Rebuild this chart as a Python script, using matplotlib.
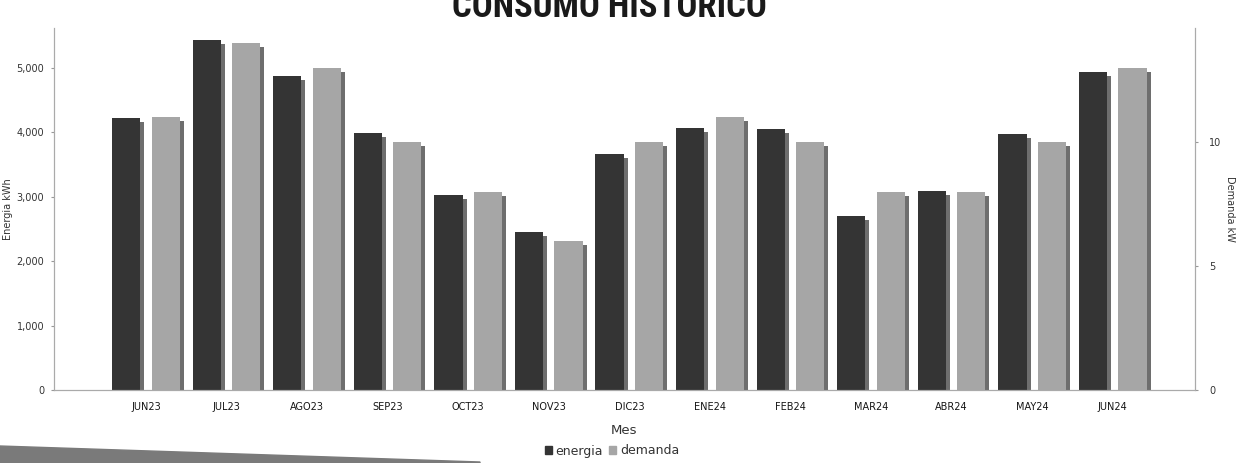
import numpy as np
import matplotlib.pyplot as plt
from matplotlib import font_manager
from matplotlib.patches import Polygon, Patch
from matplotlib.ticker import FuncFormatter

meses = ['JUN23', 'JUL23', 'AGO23', 'SEP23', 'OCT23', 'NOV23', 'DIC23',
         'ENE24', 'FEB24', 'MAR24', 'ABR24', 'MAY24', 'JUN24']
energia = [4230, 5440, 4870, 3990, 3020, 2460, 3660, 4060, 4050, 2700, 3090, 3970, 4940]
demanda = [11, 14, 13, 10, 8, 6, 10, 11, 10, 8, 8, 10, 13]

W, H = 1242, 463
fig = plt.figure(figsize=(W / 100, H / 100), dpi=100)
ax = fig.add_axes([54 / W, 1 - 390 / H, (1195 - 54) / W, 362 / H])
ax2 = ax.twinx()

x = np.arange(len(meses))
ancho = 0.35
off = 0.245
col_e = '#343434'
col_d = '#a6a6a6'
col_sh = '#6e6e6e'

ymax_e = 5620
ymax_d = 14.6
# shadow: a few pixels right and down, like the original chart renderer
dx = 4 / 80.5
sh_e = 4 / 362 * ymax_e
sh_d = 4 / 362 * ymax_d

e = np.array(energia, dtype=float)
d = np.array(demanda, dtype=float)
ax.bar(x - off + dx, e - sh_e, ancho, color=col_sh, zorder=1)
ax.bar(x - off, e, ancho, color=col_e, zorder=2)
ax2.bar(x + off + dx, d - sh_d, ancho, color=col_sh, zorder=1)
ax2.bar(x + off, d, ancho, color=col_d, zorder=2)

ax.set_xlim(-1.14, 13.02)
ax.set_ylim(0, ymax_e)
ax2.set_ylim(0, ymax_d)

ax.set_yticks(range(0, 5001, 1000))
ax.yaxis.set_major_formatter(FuncFormatter(lambda v, p: f'{int(v):,}'))
ax2.set_yticks([0, 5, 10])

ax.set_xticks(x)
ax.set_xticklabels(meses, fontsize=7, color='#151515')
ax.tick_params(axis='x', length=0, pad=9)
ax.tick_params(axis='y', labelsize=7, length=2, color='#999999', labelcolor='#333333', pad=5)
ax2.tick_params(axis='y', labelsize=7, length=2, color='#999999', labelcolor='#333333', pad=8)

for a in (ax, ax2):
    a.spines['top'].set_visible(False)
    for s in ('left', 'right', 'bottom'):
        a.spines[s].set_color('#aaaaaa')
        a.spines[s].set_linewidth(0.8)
    a.patch.set_visible(False)

ax.set_ylabel('Energia kWh', fontsize=7, color='#333333')
ax.yaxis.set_label_coords(-(54 - 13) / (1195 - 54), 0.5)
ax2.set_ylabel('Demanda kW', fontsize=7, color='#333333', rotation=-90, labelpad=10)
ax.set_xlabel('Mes', fontsize=9.5, color='#333333', labelpad=8)

# condensed bold face for the title if one is installed
nombres = {f.name for f in font_manager.fontManager.ttflist}
titulo_fam = 'DejaVu Sans'
titulo_size = 19
for fam, size in [('Liberation Sans Narrow', 25), ('Roboto Condensed', 25),
                  ('DejaVu Sans Condensed', 22), ('Open Sans Condensed', 25)]:
    if fam in nombres:
        titulo_fam, titulo_size = fam, size
        break

fig.text(0.491, 1 - 17 / H, 'CONSUMO HISTORICO', ha='center', va='baseline',
         fontsize=titulo_size, fontweight='bold', color='#1a1a1a',
         family=[titulo_fam, 'DejaVu Sans'])

handles = [Patch(color=col_e, label='energia'), Patch(color=col_d, label='demanda')]
fig.legend(handles=handles, loc='center', bbox_to_anchor=(612 / W, 1 - 451 / H), ncol=2,
           frameon=False, fontsize=9, handlelength=0.55, handleheight=0.55,
           handletextpad=0.3, columnspacing=0.5, labelcolor='#333333')

# scanner edge at the bottom
band = Polygon([[0, 17 / H], [480 / W, 1 / H], [480 / W, 0], [0, 0]],
               closed=True, transform=fig.transFigure, color='#7a7a7a', zorder=0)
fig.patches.append(band)

fig.savefig('out.png', dpi=100)
